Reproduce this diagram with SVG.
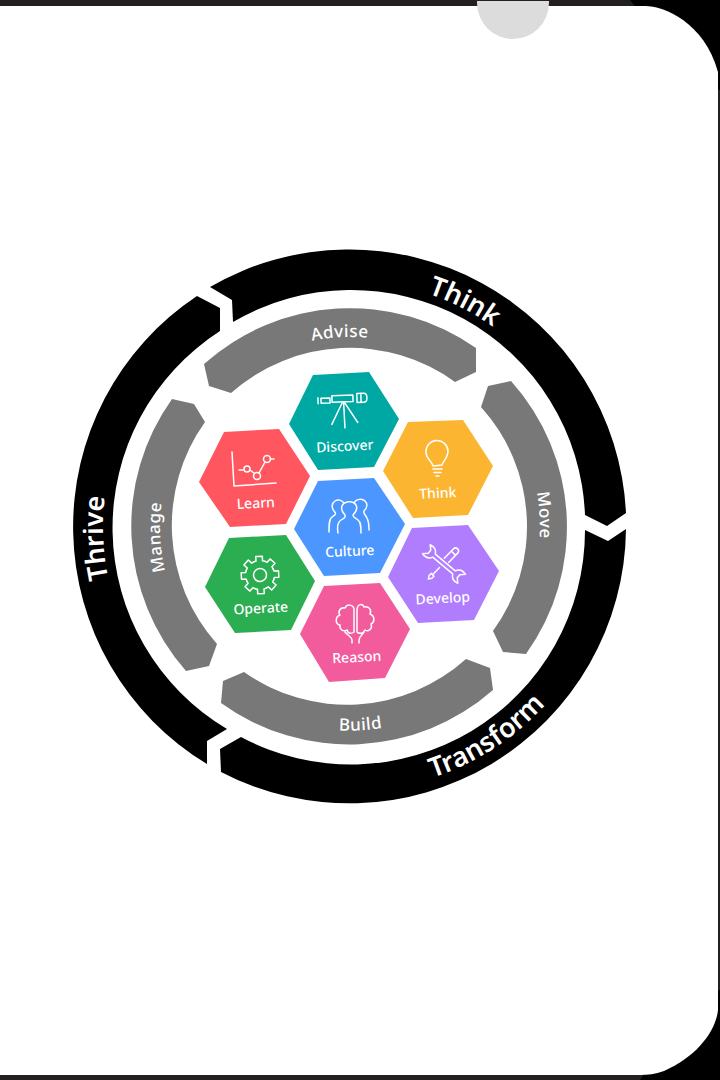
<svg xmlns="http://www.w3.org/2000/svg" width="720" height="1080" viewBox="0 0 720 1080">
<style>
.seg{fill:#000}
.band{fill:#787878}
.ic{fill:none;stroke:#fff;stroke-width:1.5;stroke-linecap:round;stroke-linejoin:round}
text{font-family:"Noto Sans","Open Sans","Liberation Sans",sans-serif;fill:#fff}
.hl{font-size:14px;font-weight:500;text-anchor:middle}
.bl{font-size:17px;font-weight:500;text-anchor:middle;letter-spacing:.5px}
.ol{font-size:27px;font-weight:600;text-anchor:middle}
</style>
<defs>
<path id="pThink" d="M253.900 300.600A246 246 0 0 1 589.700 471.600"/>
<path id="pThrive" d="M245.600 750.900A247 247 0 0 1 226.500 313.100"/>
<path id="pTransform" d="M259.700 775.100A264 264 0 0 0 613.400 545.400"/>
<path id="pAdvise" d="M185.500 432A190 190 0 0 1 503.700 415.300"/>
<path id="pMove" d="M445 362.500A190 190 0 0 1 464.300 678.700"/>
<path id="pManage" d="M272.700 700.600A190 190 0 0 1 255 362.500"/>
<path id="pBuild" d="M194 658A204 204 0 0 0 519 641"/>
<path id="tooth" d="M13.400-5.550L14.130-3.260L18.700-3.300L18.700 3.300L14.130 3.260L13.400 5.550"/>
</defs>
<g id="frame">
<rect width="720" height="1080" fill="#231f20"/>
<path d="M630 0H720V90H700Z" fill="#000"/>
<path d="M640 1080H720V990H700Z" fill="#000"/>
<path d="M0 6H645C664 6 704 22 718 72V1010C716 1030 698 1056 664 1071C655 1074 648 1075 640 1075H0Z" fill="#fff"/>
<path d="M477 1H549V3A36 36 0 0 1 477 3Z" fill="#dcdcdc"/>
</g>
<g id="outer-ring">
<g id="seg-think"><path class="seg" d="M210 287L232 300L233 322A234 234 0 0 1 585 515L607 526L626 513A277 277 0 0 0 210 287Z"/><text class="ol"><textPath href="#pThink" startOffset="50%">Think</textPath></text></g>
<g id="seg-transform"><path class="seg" d="M585 530L608 541L626 529A277 277 0 0 1 221 772L220 749L241 737A234 234 0 0 0 585 530Z"/><text class="ol"><textPath href="#pTransform" startOffset="50%">Transform</textPath></text></g>
<g id="seg-thrive"><path class="seg" d="M207 764L207 741L227 729A234 234 0 0 1 220 331L220 308L197 296A277 277 0 0 0 207 764Z"/><text class="ol"><textPath href="#pThrive" startOffset="50%">Thrive</textPath></text></g>
</g>
<g id="inner-ring">
<g id="band-advise"><path class="band" d="M204 364L209 386L231 393A179 179 0 0 1 455 382L476 372L476 348A219 219 0 0 0 204 364Z"/><text class="bl"><textPath href="#pAdvise" startOffset="50%">Advise</textPath></text></g>
<g id="band-move"><path class="band" d="M481 407L488 386L511 381A218 218 0 0 1 526 654L503 652L493 631A178 178 0 0 0 481 407Z"/><text class="bl"><textPath href="#pMove" startOffset="50%">Move</textPath></text></g>
<g id="band-build"><path class="band" d="M244 672L223 681L221 703A218 218 0 0 0 493 690L490 668L466 659A178 178 0 0 1 244 672Z"/><text class="bl"><textPath href="#pBuild" startOffset="50%">Build</textPath></text></g>
<g id="band-manage"><path class="band" d="M172 399L194 404L205 422A178 178 0 0 0 217 644L209 666L186 671A219 219 0 0 1 172 399Z"/><text class="bl"><textPath href="#pManage" startOffset="50%">Manage</textPath></text></g>
</g>
<g id="node-discover">
<polygon points="313,375 369,372 399,419 374,467 318,470 289,424" fill="#00a8a3"/>
<g class="ic" transform="rotate(-2 342 400)"><path d="M318 397V403M321 397.500H330V402.500H321ZM332 395.500H353V402H332ZM357 394H364C368 394 368 403 364 403H357ZM361 394V403M342.500 402L331 424M343.500 402L344 428M344 402L357 423"/></g>
<text class="hl" transform="rotate(-3 345 451)" x="345" y="451">Discover</text>
</g>
<g id="node-think">
<polygon points="408,422 463,420 493,466 468,515 413,518 383,471" fill="#fbb531"/>
<path class="ic" d="M433 466C432 461 426 459 426 452A11 11 0 1 1 448 451C448 458 443 461 442 465ZM433 469H442M434 472.500H441M436 476H439"/>
<text class="hl" transform="rotate(-3 438 498)" x="438" y="498">Think</text>
</g>
<g id="node-learn">
<polygon points="224,432 279,429 310,476 286,524 230,527 199,482" fill="#ff5660"/>
<g class="ic"><path d="M232 452L234 486L276 483M239 470H244M250 470L254.500 473.500M259 473L265 462M270 459H274"/><circle cx="247" cy="469" r="3"/><circle cx="257" cy="476" r="3.500"/><circle cx="267" cy="459" r="3.500"/></g>
<text class="hl" transform="rotate(-3 256 508)" x="256" y="508">Learn</text>
</g>
<g id="node-culture">
<polygon points="318,481 374,478 405,524 380,573 324,576 294,529" fill="#4c96ff"/>
<g class="ic"><path d="M338 533C337 527 338 522 341 520C344 518 346 518 345 515C342 512 341 509 342 506C344 501 353 500 356 505C358 509 356 512 353 515C353 518 356 518 358 520C361 522 361 527 361 533"/><path d="M329 532C329 525 329 519 332 517C335 515 337 514 334 511C331 507 332 503 335 501C338 499 342 500 344 503"/><path d="M354 503C356 499 362 498 365 501C368 504 367 508 364 511C363 514 366 515 367 518C369 522 369 526 369 530"/></g>
<text class="hl" transform="rotate(-3 350 556)" x="350" y="556">Culture</text>
</g>
<g id="node-operate">
<polygon points="229,538 286,535 315,581 291,630 235,633 205,587" fill="#2bad52"/>
<g class="ic" transform="translate(260 575) rotate(-3)">
<circle r="6.500"/>
<use href="#tooth"/><use href="#tooth" transform="rotate(45)"/><use href="#tooth" transform="rotate(90)"/><use href="#tooth" transform="rotate(135)"/><use href="#tooth" transform="rotate(180)"/><use href="#tooth" transform="rotate(225)"/><use href="#tooth" transform="rotate(270)"/><use href="#tooth" transform="rotate(315)"/>
</g>
<text class="hl" transform="rotate(-3 261 613)" x="261" y="613">Operate</text>
</g>
<g id="node-develop">
<polygon points="412,528 468,525 499,571 474,620 418,623 388,577" fill="#b07dff"/>
<g class="ic" transform="translate(444 564) rotate(40)"><path d="M-13-2H13C15-6 19-7 23-6L19-2V2L23 6C19 7 15 6 13 2H-13C-15 6-19 7-23 6L-19 2V-2L-23-6C-19-7-15-6-13-2Z"/></g>
<g class="ic" transform="translate(443 564) rotate(-46)"><path d="M-15 0H-5M-21 0L-18-2H-15V2H-18ZM5-3H18A3 3 0 0 1 18 3H5M15-3V3"/></g>
<text class="hl" transform="rotate(-3 443 603)" x="443" y="603">Develop</text>
</g>
<g id="node-reason">
<polygon points="324,586 380,583 410,629 385,678 329,682 300,634" fill="#f25c9c"/>
<g class="ic"><path d="M354 632V609C353 604 347 604 345 608C339 607 338 613 340 615C335 617 335 624 340 625C339 630 344 632 347 630C348 634 351 634 354 632M352 643V640C352 637 347 635 345 632M359 643V640C359 637 362 635 364 632M357 632V609C358 603 363 604 364 607C369 606 372 610 370 614C375 616 375 622 371 624C373 629 368 632 365 630C363 634 359 634 357 632"/></g>
<text class="hl" transform="rotate(-3 357 662)" x="357" y="662">Reason</text>
</g>
</svg>
